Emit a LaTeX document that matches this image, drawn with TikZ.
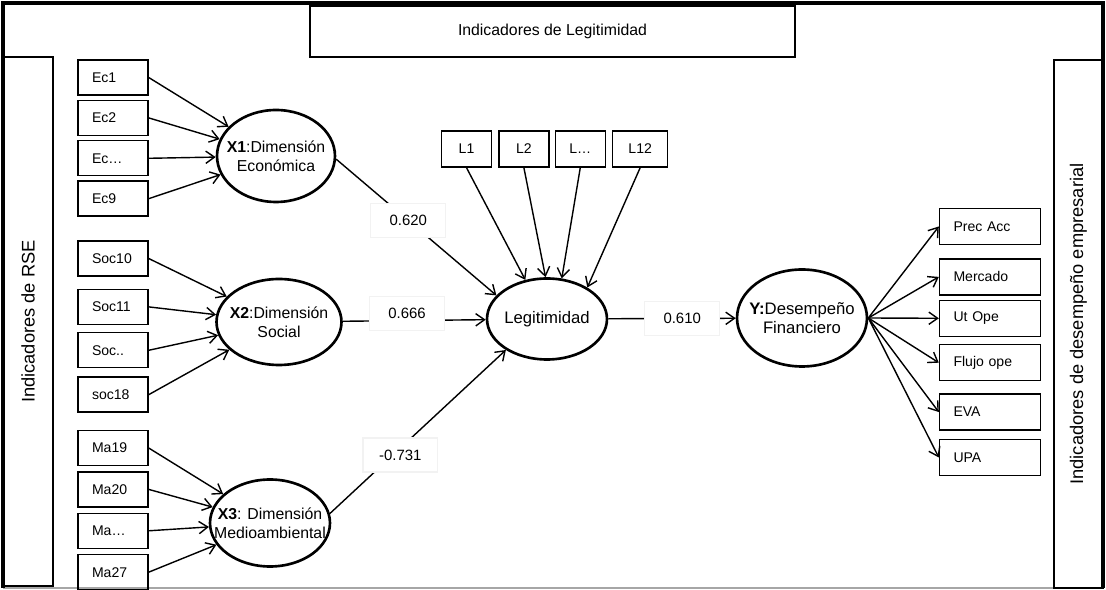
\documentclass[tikz,border=0pt]{standalone}
\usepackage{fontspec}
\setmainfont{Liberation Sans}
\usetikzlibrary{positioning,arrows.meta,shapes.geometric}

\tikzset{
  indl/.style={draw, line width=0.8pt, minimum height=0.7cm, inner xsep=0.28cm,
    text width=0.84cm, align=left, font=\fontsize{8}{9.6}\selectfont},
  indr/.style={indl, text width=1.46cm, minimum height=0.72cm},
  indt/.style={draw, line width=0.8pt, minimum width=1cm, minimum height=0.72cm,
    inner sep=1pt, font=\fontsize{8}{9.6}\selectfont},
  latent/.style={ellipse, draw, line width=1.5pt, inner xsep=-14pt, inner ysep=0pt,
    align=center, font=\fontsize{9}{10.8}\selectfont},
  groupbox/.style={draw, line width=0.7pt, font=\fontsize{10.4}{12}\selectfont},
  coef/.style={fill=white, draw=gray!10, minimum width=1.5cm, minimum height=0.68cm,
    font=\fontsize{8.5}{10}\selectfont},
  arr/.style={-{Straight Barb[length=5pt,width=7pt]}, line width=0.8pt},
}

\begin{document}
\begin{tikzpicture}[x=0.02cm, y=-0.02cm]
  \useasboundingbox (0,0) rectangle (1106,590);

  % Frame
  \draw[gray!70, line width=0.6pt] (3,588) -- (1103,588);
  \draw[line width=2pt] (3,588) -- (3,3) -- (1103,3) -- (1103,588);

  % Groups of indicators
  \node[groupbox, minimum width=9.7cm, minimum height=1.02cm, font=\fontsize{9}{11}\selectfont] (legind) at (552.5,31.5) {Indicadores de Legitimidad};
  \node[groupbox, rotate=90, minimum width=10.58cm, minimum height=1cm] (rseind) at (28,321.5) {Indicadores de RSE};
  \node[groupbox, rotate=90, minimum width=10.56cm, minimum height=0.98cm] (desind) at (1078.5,324) {Indicadores de desempeño empresarial};

  % Constructs
  \node[latent, minimum width=2.36cm, minimum height=1.84cm] (x1) at (276,156) {\textbf{X1}:Dimensión\\Económica};
  \node[latent, minimum width=2.5cm, minimum height=1.72cm] (x2) at (279,322) {\textbf{X2}:Dimensión\\Social};
  \node[latent, minimum width=2.4cm, minimum height=1.74cm] (x3) at (270,523) {\textbf{X3}: Dimensión\\Medioambiental};
  \node[latent, minimum width=2.4cm, minimum height=1.62cm, font=\fontsize{9.5}{11}\selectfont] (leg) at (547,319) {Legitimidad};
  \node[latent, minimum width=2.6cm, minimum height=1.94cm, font=\fontsize{9.5}{11}\selectfont] (y) at (802,318) {\textbf{Y:}Desempeño\\Financiero};

  % Economic indicators
  \node[indl] (ec1) at (113,77.5) {Ec1};
  \node[indl, below=0.08cm of ec1] (ec2) {Ec2};
  \node[indl, below=0.08cm of ec2] (ecd) {Ec…};
  \node[indl, below=0.08cm of ecd] (ec9) {Ec9};

  % Social indicators
  \node[indl] (soc10) at (113,258.5) {Soc10};
  \node[indl, below=0.24cm of soc10] (soc11) {Soc11};
  \node[indl, below=0.14cm of soc11] (socd) {Soc..};
  \node[indl, below=0.16cm of socd] (soc18) {soc18};

  % Environmental indicators
  \node[indl] (ma19) at (113,448) {Ma19};
  \node[indl, below=0.1cm of ma19] (ma20) {Ma20};
  \node[indl, below=0.1cm of ma20] (mad) {Ma…};
  \node[indl, below=0.1cm of mad] (ma27) {Ma27};

  % Legitimacy indicators
  \node[indt] (l1) at (466.5,149) {L1};
  \node[indt, right=0.12cm of l1] (l2) {L2};
  \node[indt, right=0.1cm of l2] (ld) {L…};
  \node[indt, right=0.12cm of ld, minimum width=1.1cm] (l12) {L12};

  % Financial indicators
  \node[indr] (prec) at (990,226.5) {Prec Acc};
  \node[indr, below=0.26cm of prec] (merc) {Mercado};
  \node[indr, below=0.08cm of merc] (utope) {Ut Ope};
  \node[indr, below=0.14cm of utope] (flujo) {Flujo ope};
  \node[indr, below=0.24cm of flujo] (eva) {EVA};
  \node[indr, below=0.16cm of eva] (upa) {UPA};

  % Connect the nodes
  \foreach \i in {ec1,ec2,ecd,ec9} \draw[arr] (\i.east) -- (x1);
  \foreach \i in {soc10,soc11,socd,soc18} \draw[arr] (\i.east) -- (x2);
  \foreach \i in {ma19,ma20,mad,ma27} \draw[arr] (\i.east) -- (x3);
  \foreach \l/\a in {l1/119,l2/92,ld/70,l12/38} \draw[arr] (\l.south) -- (leg.\a);
  \foreach \r in {prec,merc,utope,flujo,eva,upa} \draw[arr] (y.east) -- (\r.west);

  % Structural paths
  \draw[arr] (x1.-3) -- node[coef, pos=0.45] {0.620} (leg.155);
  \draw[arr] (x2) -- node[coef, pos=0.45, yshift=4pt] {0.666} (leg);
  \draw[arr] (x3.9) -- node[coef, pos=0.4, yshift=-4pt] {-0.731} (leg.217);
  \draw[arr] (leg) -- node[coef, pos=0.58] {0.610} (y);

\end{tikzpicture}
\end{document}
